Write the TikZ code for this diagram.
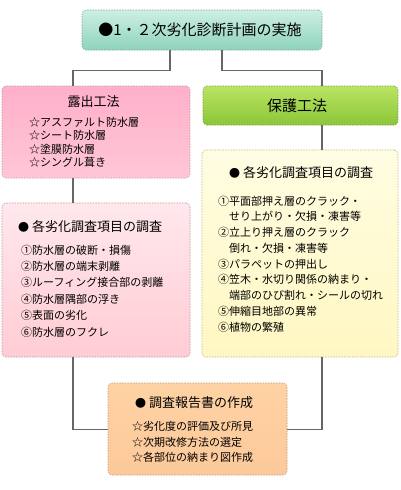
\documentclass[tikz,border=0pt]{standalone}
\usepackage{fontspec}
\setmainfont{Noto Sans CJK JP}
\usetikzlibrary{shadings}
\definecolor{linegray}{HTML}{666666}
\definecolor{tealT}{HTML}{CDEFE3}
\definecolor{tealB}{HTML}{8ED3BD}
\definecolor{tealD}{HTML}{7FA898}
\definecolor{pinkT}{HTML}{FFB0CA}
\definecolor{pinkM}{HTML}{FFE6EE}
\definecolor{pinkB}{HTML}{FFC6D6}
\definecolor{pinkD}{HTML}{C09AA6}
\definecolor{greenT}{HTML}{BAE462}
\definecolor{greenB}{HTML}{8CC63A}
\definecolor{greenD}{HTML}{7EA046}
\definecolor{yelT}{HTML}{FFFDE2}
\definecolor{yelB}{HTML}{FFF7C2}
\definecolor{yelD}{HTML}{C4BC86}
\definecolor{pk2T}{HTML}{FFE8EC}
\definecolor{pk2B}{HTML}{FFCCD4}
\definecolor{orT}{HTML}{FED2A4}
\definecolor{orM}{HTML}{FFE3C6}
\definecolor{orB}{HTML}{FDC99A}
\definecolor{orD}{HTML}{C0A080}
\tikzset{
  boxbase/.style={rectangle, rounded corners=4pt, dashed, dash pattern=on 1.5pt off 1.2pt, line width=0.6pt, inner sep=0pt},
  conn/.style={draw=linegray, line width=1.6pt},
  ttl/.style={inner sep=0pt, text=black},
  lst/.style={inner sep=0pt, align=left, anchor=north west, text=black},
}
\newcommand{\blt}{{\fontsize{11}{11}\selectfont ●}\hspace{3pt}}
\begin{document}
\begin{tikzpicture}[x=1pt,y=-1pt]
\useasboundingbox[fill=white] (0,0) rectangle (400,490);
% boxes
\node[boxbase, draw=tealD, top color=tealT, bottom color=tealB, minimum width=240pt, minimum height=40pt] (top) at (202,30) {};
\node[boxbase, draw=pinkD, top color=pinkT, middle color=pinkM, bottom color=pinkB, minimum width=188pt, minimum height=92pt] (pink1) at (96,132) {};
\node[boxbase, draw=greenD, top color=greenT, bottom color=greenB, minimum width=195pt, minimum height=39pt] (green) at (300.5,105.5) {};
\node[boxbase, draw=yelD, top color=yelT, bottom color=yelB, minimum width=196pt, minimum height=207pt] (yel) at (300,253.5) {};
\node[boxbase, draw=pinkD, top color=pk2T, bottom color=pk2B, minimum width=188pt, minimum height=154pt] (pink2) at (96,280) {};
\node[boxbase, draw=orD, top color=orT, middle color=orM, bottom color=orB, minimum width=179pt, minimum height=92pt] (orange) at (197.5,429) {};
% connectors
\draw[conn] ([xshift=-32pt]top.south) -- ++(0,20) -| ([xshift=-23pt]pink1.north);
\draw[conn] ([xshift=20pt]top.south) -- ++(0,20) -| ([xshift=21.5pt]green.north);
\draw[conn] ([xshift=21.5pt]green.south) -- ([xshift=22pt]yel.north);
\draw[conn] ([xshift=-23pt]pink1.south) -- ([xshift=-23pt]pink2.north);
\draw[conn] ([xshift=-23pt]pink2.south) |- ([yshift=-0.5pt]orange.west);
\draw[conn] ([xshift=22pt]yel.south) |- ([yshift=-0.5pt]orange.east);
% texts
\node[ttl, font=\fontsize{15}{15}\selectfont] (topt) at (200,30) {●1・２次劣化診断計画の実施};
\node[ttl, font=\fontsize{13}{13}\selectfont] (pink1t) at (93.5,102) {露出工法};
\node[lst, font=\fontsize{11}{13.4}\selectfont] (pink1l) at (29,117) {☆アスファルト防水層\\☆シート防水層\\☆塗膜防水層\\☆シングル葺き};
\node[ttl, font=\fontsize{15}{15}\selectfont] (greent) at (297,106) {保護工法};
\node[ttl, anchor=west, font=\fontsize{13}{13}\selectfont] (yelt) at (229,173) {\blt 各劣化調査項目の調査};
\node[lst, font=\fontsize{11}{15.75}\selectfont] (yell) at (218,195.5) {①平面部押え層のクラック・\\\hspace{1em}せり上がり・欠損・凍害等\\②立上り押え層のクラック\\\hspace{1em}倒れ・欠損・凍害等\\③パラペットの押出し\\④笠木・水切り関係の納まり・\\\hspace{1em}端部のひび割れ・シールの切れ\\⑤伸縮目地部の異常\\⑥植物の繁殖};
\node[ttl, anchor=west, font=\fontsize{13}{13}\selectfont] (pink2t) at (18,227) {\blt 各劣化調査項目の調査};
\node[lst, font=\fontsize{11}{16.4}\selectfont] (pink2l) at (21,244.5) {①防水層の破断・損傷\\②防水層の端末剥離\\③ルーフィング接合部の剥離\\④防水層隅部の浮き\\⑤表面の劣化\\⑥防水層のフクレ};
\node[ttl, anchor=west, font=\fontsize{13}{13}\selectfont] (ort) at (135,403) {\blt 調査報告書の作成};
\node[lst, font=\fontsize{11}{15.5}\selectfont] (orl) at (132,421.5) {☆劣化度の評価及び所見\\☆次期改修方法の選定\\☆各部位の納まり図作成};
\end{tikzpicture}
\end{document}
